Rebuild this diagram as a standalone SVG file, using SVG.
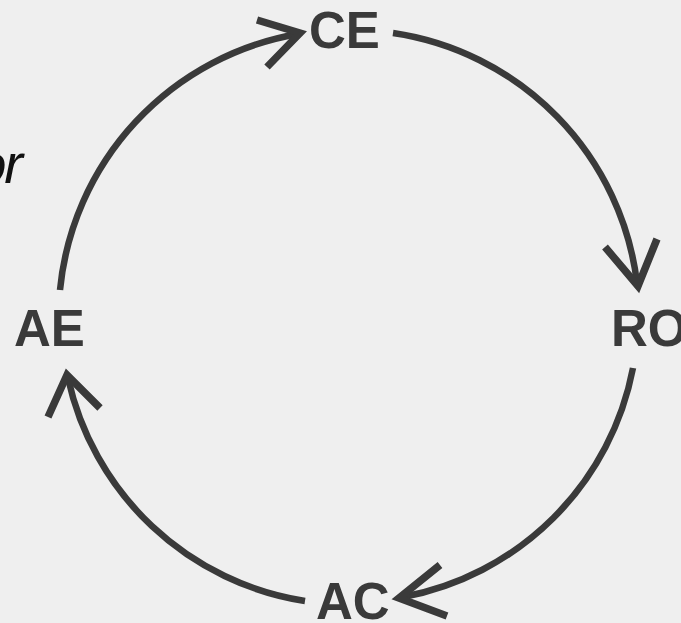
<svg xmlns="http://www.w3.org/2000/svg" width="681" height="623" viewBox="0 0 681 623">
  <style>
    .lbl { font-family: "Liberation Sans", Arial, sans-serif; font-weight: bold; font-size: 51px; fill: #3a3a3a; }
    .arc { fill: none; stroke: #3a3a3a; stroke-width: 6.5; stroke-linecap: butt; }
    .head { fill: none; stroke: #3a3a3a; stroke-width: 7.5; stroke-linecap: butt; stroke-linejoin: miter; }
    .note { font-family: "Liberation Sans", Arial, sans-serif; font-style: italic; font-size: 56px; fill: #111; }
  </style>
  <rect x="0" y="0" width="681" height="623" fill="#efefef"/>
  <text class="note" x="21" y="183" text-anchor="end" letter-spacing="-2">or</text>
  <g id="connectors">
    <g id="ae-ce">
      <path class="arc" d="M60,290 A288,288 0 0 1 298,34"/>
      <polyline class="head" points="257,20 300,33 267,67"/>
    </g>
    <g id="ce-ro">
      <path class="arc" d="M393,33 A288,288 0 0 1 637,283"/>
      <polyline class="head" points="605,247 638,286 657,239"/>
    </g>
    <g id="ro-ac">
      <path class="arc" d="M633,368 A288,288 0 0 1 403,597"/>
      <polyline class="head" points="440,565 399,598 447,616"/>
    </g>
    <g id="ac-ae">
      <path class="arc" d="M305,601 A288,288 0 0 1 68,378"/>
      <polyline class="head" points="48,417 67,375 100,408"/>
    </g>
  </g>
  <g id="CE"><text class="lbl" x="309" y="48">CE</text></g>
  <g id="AE"><text class="lbl" x="14" y="346">AE</text></g>
  <g id="RO"><text class="lbl" x="611" y="346">RO</text></g>
  <g id="AC"><text class="lbl" x="316" y="619">AC</text></g>
</svg>
